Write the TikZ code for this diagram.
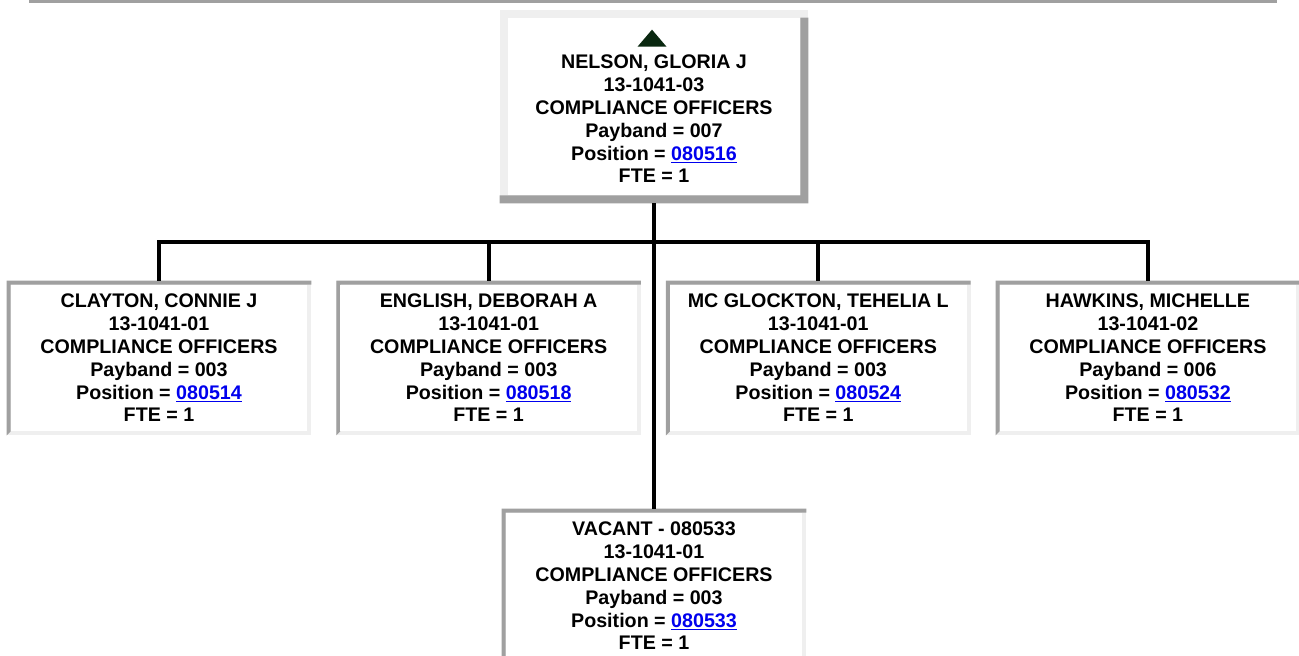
\documentclass[tikz,border=0pt]{standalone}
\usepackage{fontspec}
\setmainfont{Liberation Sans}
\usepackage{xcolor}
\usetikzlibrary{positioning,calc,backgrounds}

\definecolor{edgedark}{HTML}{A0A0A0}
\definecolor{edgelite}{HTML}{EFEFEF}
\definecolor{linkblue}{HTML}{0000EE}
\definecolor{upgreen}{RGB}{10,40,16}

\newcommand\poslink[1]{{\color{linkblue}\underline{#1}}}
\newcommand\staff[4]{#1\\#2\\COMPLIANCE OFFICERS\\Payband = #3\\Position = \poslink{#4}\\FTE = 1}

\begin{document}
\begin{tikzpicture}[
  x=0.02cm, y=-0.02cm,
  node distance=0.5cm,
  card/.style={inner sep=0pt, align=center, font={\fontsize{11.2pt}{13pt}\selectfont\bfseries}},
  bossbox/.style={card, minimum width=6.16cm, minimum height=3.86cm},
  staffbox/.style={card, minimum width=6.08cm, minimum height=3.08cm},
  link/.style={line width=0.08cm}
]
  \useasboundingbox (0,0) rectangle (1299,656);
  \fill[edgedark] (29,0) rectangle (1277,3);

  % supervisor
  \node[bossbox] (nelson) at (654,106.5) {\mbox{}\\[9pt]\staff{NELSON, GLORIA J}{13-1041-03}{007}{080516}};
  \fill[upgreen] ($(nelson.north)+(-16.5,37)$) -- ($(nelson.north)+(-2,20)$) -- ($(nelson.north)+(12.5,37)$) -- cycle;

  % direct reports
  \node[staffbox] (clayton) at (159,358) {\staff{CLAYTON, CONNIE J}{13-1041-01}{003}{080514}};
  \node[staffbox, right=of clayton] (english) {\staff{ENGLISH, DEBORAH A}{13-1041-01}{003}{080518}};
  \node[staffbox, right=of english] (mcglockton) {\staff{MC GLOCKTON, TEHELIA L}{13-1041-01}{003}{080524}};
  \node[staffbox, right=of mcglockton] (hawkins) {\staff{HAWKINS, MICHELLE}{13-1041-02}{006}{080532}};
  \node[staffbox] (vacant) at (654,586) {\staff{VACANT - 080533}{13-1041-01}{003}{080533}};

  % connectors
  \coordinate (bus) at (654,242);
  \draw[link] (nelson.south) -- (vacant.north);
  \draw[link] (clayton.north) |- (bus) -| (hawkins.north);
  \draw[link] (english.north) -- (english.north |- bus);
  \draw[link] (mcglockton.north) -- (mcglockton.north |- bus);

  % box borders
  \begin{scope}[on background layer]
    \fill[edgelite] (nelson.north west) rectangle (nelson.south east);
    \fill[edgedark] ($(nelson.north east)+(0,8)$) -- (nelson.south east) -- (nelson.south west)
      -- ($(nelson.south west)+(0,-8)$) -- ($(nelson.south east)+(-8,-8)$) -- ($(nelson.north east)+(-8,8)$) -- cycle;
    \fill[white] ($(nelson.north west)+(8,8)$) rectangle ($(nelson.south east)+(-8,-8)$);
    \foreach \n in {clayton,english,mcglockton,hawkins,vacant}{
      \fill[edgelite] (\n.north west) rectangle (\n.south east);
      \fill[edgedark] (\n.north west) -- (\n.north east) -- ($(\n.north east)+(0,4)$) -- ($(\n.north west)+(4,4)$)
        -- ($(\n.south west)+(4,-4)$) -- (\n.south west) -- cycle;
      \fill[white] ($(\n.north west)+(4,4)$) rectangle ($(\n.south east)+(-4,-4)$);
    }
  \end{scope}
\end{tikzpicture}
\end{document}
